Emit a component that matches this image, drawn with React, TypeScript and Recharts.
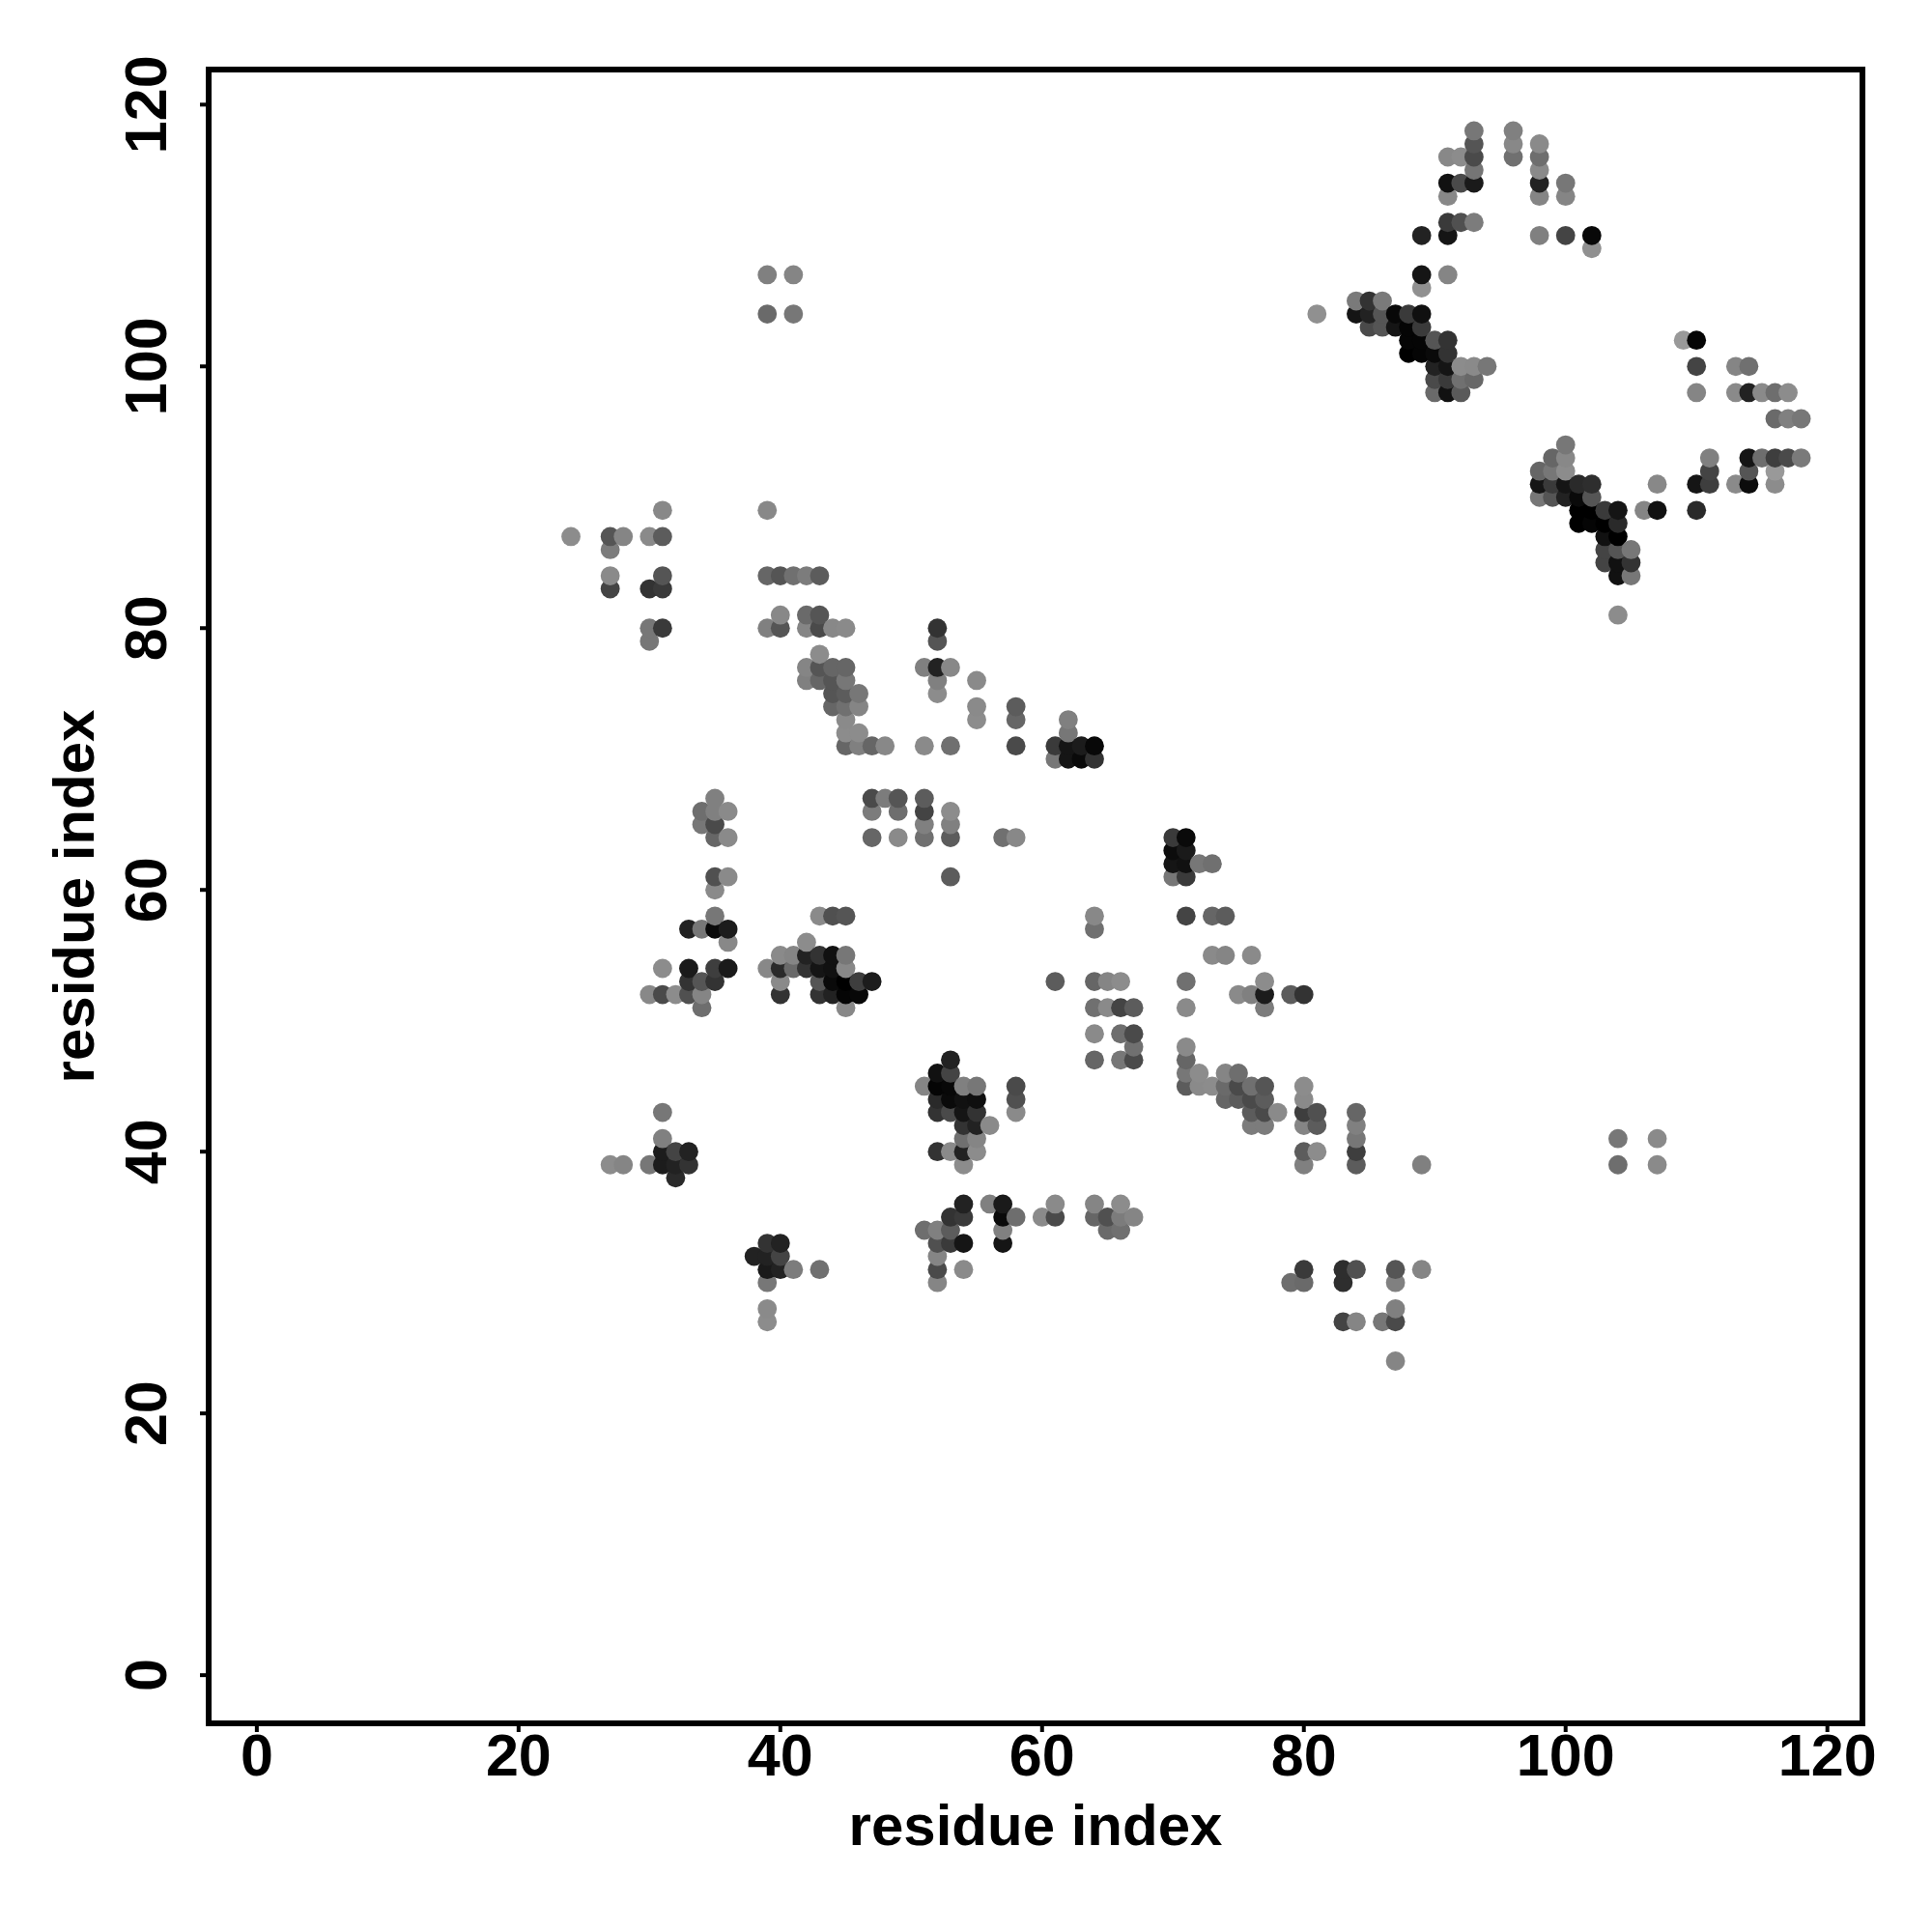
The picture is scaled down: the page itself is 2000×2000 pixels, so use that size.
import { ScatterChart, Scatter, XAxis, YAxis, ReferenceArea, Label } from 'recharts';

type Contact = [number, number, number]; // residue x, residue y, grey level

const tickValues = [0, 20, 40, 60, 80, 100, 120];
const xDomain: [number, number] = [-3.68, 122.68];
const yDomain: [number, number] = [-3.68, 122.68];
const axisTitle = 'residue index';

const topCluster: Contact[] = [
  [93,118,0x77],[96,118,0x80],[98,117,0x8a],[93,117,0x55],[96,117,0x88],
  [91,116,0x88],[92,116,0x8c],[93,116,0x4a],[96,116,0x70],[98,116,0x6e],
  [93,115,0x75],[98,115,0x8a],[91,114,0x11],[92,114,0x4a],[93,114,0x1a],[98,114,0x22],[100,114,0x77],
  [91,113,0x88],[98,113,0x85],[100,113,0x85],[91,111,0x3a],[92,111,0x50],[93,111,0x7c],
  [89,110,0x22],[91,110,0x15],[98,110,0x80],[100,110,0x44],[102,110,0x08],[102,109,0x90],
  [89,107,0x15],[91,107,0x85],[89,106,0x90],
];

const upperBand: Contact[] = [
  [84,105,0x7a],[85,105,0x33],[86,105,0x7a],
  [81,104,0x90],[84,104,0x15],[85,104,0x22],[86,104,0x55],[87,104,0x08],[88,104,0x3a],[89,104,0x10],
  [85,103,0x4a],[86,103,0x55],[87,103,0x15],[88,103,0x05],[89,103,0x3a],
  [88,102,0x05],[89,102,0x05],[90,102,0x55],[91,102,0x33],
  [88,101,0x00],[89,101,0x05],[90,101,0x0a],[91,101,0x33],
  [90,100,0x22],[91,100,0x15],[92,100,0x8c],[93,100,0x8a],[94,100,0x77],
  [90,99,0x4a],[91,99,0x3a],[92,99,0x70],[93,99,0x68],
  [90,98,0x6a],[91,98,0x11],[92,98,0x5a],
];

const rightCluster: Contact[] = [
  [109,102,0x99],[110,102,0x05],[110,100,0x44],[113,100,0x85],[114,100,0x70],
  [110,98,0x85],[113,98,0x8a],[114,98,0x22],[115,98,0x8a],[116,98,0x6e],[117,98,0x8c],
  [116,96,0x6a],[117,96,0x80],[118,96,0x77],
  [111,93,0x80],[114,93,0x15],[115,93,0x6e],[116,93,0x3e],[117,93,0x4a],[118,93,0x7a],
  [111,92,0x44],[114,92,0x55],[116,92,0x99],
  [107,91,0x88],[110,91,0x15],[111,91,0x3e],[113,91,0x8a],[114,91,0x0c],[116,91,0x8c],
  [106,89,0x85],[107,89,0x11],[110,89,0x2a],
];

const lowerBand: Contact[] = [
  [100,94,0x77],[99,93,0x66],[100,93,0x88],[98,92,0x66],[99,92,0x77],[100,92,0x8c],
  [98,91,0x15],[99,91,0x3a],[100,91,0x15],[101,91,0x2a],[102,91,0x2e],
  [98,90,0x77],[99,90,0x55],[100,90,0x22],[101,90,0x0a],[102,90,0x55],
  [101,89,0x00],[102,89,0x00],[103,89,0x3a],[104,89,0x15],
  [101,88,0x00],[102,88,0x05],[103,88,0x00],[104,88,0x2a],[103,87,0x11],[104,87,0x00],
  [103,86,0x44],[104,86,0x55],[105,86,0x77],[103,85,0x44],[104,85,0x11],[105,85,0x33],
  [104,84,0x11],[105,84,0x77],[104,81,0x8c],
];

const upperLeft: Contact[] = [
  [39,107,0x80],[41,107,0x85],[39,104,0x6a],[41,104,0x77],
  [31,89,0x88],[39,89,0x88],[24,87,0x8c],[27,87,0x55],[28,87,0x85],[30,87,0x8a],[31,87,0x5c],
  [27,86,0x7c],[27,84,0x8a],[31,84,0x55],[39,84,0x66],[40,84,0x55],[41,84,0x70],[42,84,0x7c],[43,84,0x5c],
  [27,83,0x44],[30,83,0x33],[31,83,0x3a],[40,81,0x88],[42,81,0x6a],[43,81,0x55],
  [30,80,0x77],[31,80,0x3a],[39,80,0x80],[40,80,0x55],[42,80,0x85],[43,80,0x4a],[44,80,0x88],[45,80,0x8a],
  [30,79,0x77],
];

const diagonalBand: Contact[] = [
  [52,80,0x33],[52,79,0x55],[43,78,0x8c],
  [42,77,0x85],[43,77,0x55],[44,77,0x66],[45,77,0x66],[51,77,0x80],[52,77,0x22],[53,77,0x88],
  [42,76,0x80],[43,76,0x66],[44,76,0x55],[45,76,0x77],[52,76,0x80],[55,76,0x8a],
  [44,75,0x55],[45,75,0x5c],[46,75,0x77],[52,75,0x8c],
  [44,74,0x66],[45,74,0x70],[46,74,0x85],[55,74,0x8a],[58,74,0x5c],
  [45,73,0x8a],[55,73,0x8c],[58,73,0x66],[62,73,0x80],[45,72,0x8c],[46,72,0x8c],[62,72,0x77],
  [45,71,0x66],[46,71,0x80],[47,71,0x66],[48,71,0x88],[51,71,0x8a],[53,71,0x70],[58,71,0x4a],
  [61,71,0x3a],[62,71,0x15],[63,71,0x1c],[64,71,0x08],[61,70,0x77],[62,70,0x15],[63,70,0x0a],[64,70,0x33],
];

const middleBlock: Contact[] = [
  [35,67,0x80],[47,67,0x4a],[48,67,0x7c],[49,67,0x55],[51,67,0x5c],
  [34,66,0x6e],[35,66,0x80],[36,66,0x8a],[47,66,0x7c],[49,66,0x6e],[51,66,0x44],[53,66,0x8c],
  [34,65,0x77],[35,65,0x4a],[51,65,0x80],[53,65,0x80],
  [35,64,0x66],[36,64,0x8a],[47,64,0x66],[49,64,0x8a],[51,64,0x70],[53,64,0x5c],[57,64,0x70],[58,64,0x88],
  [35,61,0x50],[36,61,0x8a],[53,61,0x5c],[35,60,0x8a],
  [35,58,0x77],[43,58,0x8a],[44,58,0x50],[45,58,0x55],[64,58,0x88],
  [33,57,0x22],[34,57,0x77],[35,57,0x0a],[36,57,0x1c],[64,57,0x70],[36,56,0x88],[42,56,0x8c],
  [40,55,0x8a],[41,55,0x85],[42,55,0x22],[43,55,0x33],[44,55,0x11],[45,55,0x77],
  [31,54,0x8c],[33,54,0x1a],[35,54,0x3e],[36,54,0x1a],[39,54,0x88],[40,54,0x2a],[41,54,0x6a],[42,54,0x33],[43,54,0x15],[44,54,0x11],[45,54,0x88],
  [33,53,0x33],[34,53,0x55],[35,53,0x33],[40,53,0x8a],[43,53,0x55],[44,53,0x0a],[45,53,0x00],[46,53,0x3e],[47,53,0x1c],
  [61,53,0x5c],[64,53,0x66],[65,53,0x85],[66,53,0x8c],
  [30,52,0x88],[31,52,0x4a],[32,52,0x8c],[33,52,0x50],[34,52,0x85],[40,52,0x33],[43,52,0x33],[44,52,0x22],[45,52,0x05],[46,52,0x08],
  [34,51,0x6e],[45,51,0x88],[64,51,0x70],[65,51,0x8a],[66,51,0x44],[67,51,0x5c],
  [64,49,0x8a],[66,49,0x6e],[67,49,0x4a],[67,48,0x70],[64,47,0x66],[66,47,0x77],[67,47,0x4a],
];

const lowerMiddle: Contact[] = [
  [53,47,0x22],[52,46,0x11],[53,46,0x44],
  [51,45,0x85],[52,45,0x05],[53,45,0x08],[54,45,0x80],[55,45,0x77],[58,45,0x4a],
  [52,44,0x2a],[53,44,0x0a],[54,44,0x11],[55,44,0x0f],[58,44,0x50],
  [52,43,0x33],[53,43,0x4a],[54,43,0x15],[55,43,0x33],[58,43,0x8a],
  [54,42,0x33],[55,42,0x22],[56,42,0x8a],[54,41,0x70],[55,41,0x85],
  [52,40,0x33],[53,40,0x8a],[54,40,0x22],[55,40,0x8c],[54,39,0x8c],
  [31,43,0x77],[31,41,0x80],[31,40,0x1c],[32,40,0x44],[33,40,0x22],
  [27,39,0x8c],[28,39,0x85],[30,39,0x77],[31,39,0x1c],[32,39,0x22],[33,39,0x33],[32,38,0x2a],
  [54,36,0x22],[56,36,0x80],[57,36,0x1a],[61,36,0x8a],[64,36,0x85],[66,36,0x8c],
  [53,35,0x33],[54,35,0x3a],[57,35,0x0a],[58,35,0x6e],[60,35,0x8a],[61,35,0x4a],[64,35,0x66],[65,35,0x50],[66,35,0x7c],[67,35,0x85],
  [51,34,0x6e],[52,34,0x80],[53,34,0x5c],[57,34,0x80],[65,34,0x6a],[66,34,0x70],
  [52,33,0x50],[53,33,0x3a],[54,33,0x15],[57,33,0x15],[39,33,0x33],[40,33,0x22],
  [38,32,0x22],[39,32,0x22],[40,32,0x44],[52,32,0x85],
  [39,31,0x1a],[40,31,0x22],[41,31,0x7c],[43,31,0x70],[52,31,0x4a],[54,31,0x8a],
  [39,30,0x77],[52,30,0x85],[39,28,0x8a],[39,27,0x8c],
];

const lowerRight: Contact[] = [
  [70,64,0x3a],[71,64,0x0a],[70,63,0x0c],[71,63,0x1a],[70,62,0x15],[71,62,0x11],[72,62,0x77],[73,62,0x70],
  [70,61,0x77],[71,61,0x3a],[71,58,0x44],[73,58,0x66],[74,58,0x5c],[73,55,0x8a],[74,55,0x85],[76,55,0x8a],
  [71,53,0x70],[77,53,0x8c],[75,52,0x8a],[76,52,0x80],[77,52,0x1c],[79,52,0x5c],[80,52,0x33],[71,51,0x8a],[77,51,0x7c],
  [71,48,0x8a],[71,47,0x66],[71,46,0x77],[72,46,0x8c],[74,46,0x85],[75,46,0x6e],
  [71,45,0x5c],[72,45,0x8a],[73,45,0x8c],[74,45,0x6a],[75,45,0x4a],[76,45,0x70],[77,45,0x55],
  [74,44,0x66],[75,44,0x5c],[76,44,0x4a],[77,44,0x5c],
  [76,43,0x5c],[77,43,0x4a],[78,43,0x8a],[80,43,0x3e],[81,43,0x50],[84,43,0x66],
  [76,42,0x7c],[77,42,0x7c],[80,42,0x85],[81,42,0x5c],[84,42,0x80],[84,41,0x77],
  [80,45,0x8c],[80,44,0x8a],
  [80,40,0x5c],[81,40,0x8c],[84,40,0x3e],[80,39,0x80],[84,39,0x5c],[89,39,0x80],
  [104,41,0x77],[107,41,0x8a],[104,39,0x6e],[107,39,0x8a],
  [80,31,0x3a],[79,30,0x6e],[80,30,0x6a],[83,31,0x2e],[84,31,0x50],[83,30,0x2e],[87,31,0x55],[89,31,0x85],[87,30,0x80],
  [87,28,0x80],[83,27,0x44],[84,27,0x85],[86,27,0x77],[87,27,0x4a],[87,24,0x85],
];

const contacts = [
  ...topCluster, ...upperBand, ...rightCluster, ...lowerBand, ...upperLeft,
  ...diagonalBand, ...middleBlock, ...lowerMiddle, ...lowerRight,
]
  .map(([x, y, grey]) => ({ x, y, fill: `rgb(${grey},${grey},${grey})` }))
  .sort((a, b) => a.x - b.x || a.y - b.y);

const font = '"Liberation Sans", Arial, sans-serif';

function ContactDot({ cx, cy, payload }: any) {
  return <circle cx={cx} cy={cy} r={9.9} fill={payload.fill} />;
}

function XTick({ x, y, payload }: any) {
  return (
    <text x={x} y={y + 16} dy={27} textAnchor="middle" fontFamily={font} fontSize={61} fontWeight={700} fill="#000">
      {payload.value}
    </text>
  );
}

function YTick({ x, y, payload }: any) {
  const tx = x - 33;
  return (
    <text x={tx} y={y} textAnchor="middle" transform={`rotate(-90 ${tx} ${y})`} fontFamily={font} fontSize={61} fontWeight={700} fill="#000">
      {payload.value}
    </text>
  );
}

export default function App() {
  return (
    <div style={{ position: 'absolute', left: 0, top: 0, width: 2000, height: 2000, background: '#fff' }}>
      <ScatterChart width={2000} height={2000} margin={{ top: 72, right: 72, left: 0, bottom: 0 }}>
        <XAxis
          type="number" dataKey="x" domain={xDomain} ticks={tickValues} height={216}
          axisLine={false} tickSize={9} tickLine={{ stroke: '#000', strokeWidth: 4 }}
          tick={<XTick />} interval={0} allowDataOverflow
        >
          <Label value={axisTitle} position="insideTop" dy={78} fontFamily={font} fontSize={60} fontWeight={700} fill="#000" />
        </XAxis>
        <YAxis
          type="number" dataKey="y" domain={yDomain} ticks={tickValues} width={216}
          axisLine={false} tickSize={9} tickLine={{ stroke: '#000', strokeWidth: 4 }}
          tick={<YTick />} interval={0} allowDataOverflow
        >
          <Label value={axisTitle} angle={-90} position="insideLeft" dx={71} dy={0} style={{ textAnchor: 'middle' }} fontFamily={font} fontSize={60} fontWeight={700} fill="#000" />
        </YAxis>
        <Scatter data={contacts} shape={<ContactDot />} isAnimationActive={false} />
        <ReferenceArea x1={xDomain[0]} x2={xDomain[1]} y1={yDomain[0]} y2={yDomain[1]} fill="none" stroke="#000" strokeWidth={6} ifOverflow="visible" />
      </ScatterChart>
    </div>
  );
}
